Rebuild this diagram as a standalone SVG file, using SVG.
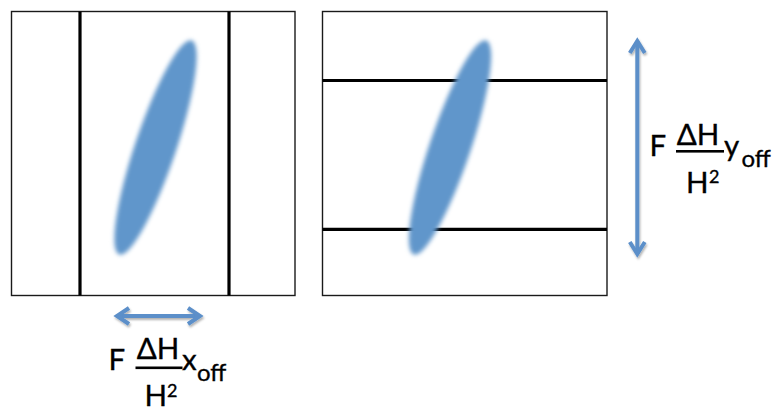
<svg xmlns="http://www.w3.org/2000/svg" width="778" height="410" viewBox="0 0 778 410">
  <defs>
    <filter id="soft" x="-30%" y="-10%" width="160%" height="120%">
      <feGaussianBlur stdDeviation="2.2"/>
    </filter>
    <filter id="shadow" x="-20%" y="-20%" width="140%" height="140%">
      <feDropShadow dx="1" dy="2" stdDeviation="1.3" flood-color="#000" flood-opacity="0.3"/>
    </filter>
    <style>
      .frame { fill: #ffffff; stroke: #1a1a1a; stroke-width: 1.4; }
      .cut { stroke: #000000; stroke-width: 3.2; fill: none; }
      .blob { fill: #6096cb; filter: url(#soft); }
      .arrow { stroke: #5b8fc9; stroke-width: 4; fill: none; stroke-linejoin: miter; }
      .t { font-family: Lato, "Open Sans", "Liberation Sans", sans-serif; fill: #000000; stroke: #000000; stroke-width: 0.35; }
      .main { font-size: 29.5px; }
      .sub { font-size: 24px; }
      .sup { font-size: 18px; }
      .bar { fill: #000000; }
    </style>
  </defs>

  <g id="panel-left">
    <rect class="frame" x="11.5" y="11.5" width="283.5" height="284"/>
    <line class="cut" x1="80" y1="11.5" x2="80" y2="295.5"/>
    <line class="cut" x1="229" y1="11.5" x2="229" y2="295.5"/>
    <ellipse class="blob" cx="155.5" cy="147.5" rx="20.5" ry="113" transform="rotate(18.7 155.5 147.5)"/>
  </g>

  <g id="panel-right">
    <rect class="frame" x="322.5" y="11.5" width="284.5" height="284"/>
    <line class="cut" x1="322.5" y1="80.5" x2="607" y2="80.5"/>
    <line class="cut" x1="322.5" y1="229.3" x2="607" y2="229.3"/>
    <ellipse class="blob" cx="450" cy="147.5" rx="20.5" ry="113" transform="rotate(18.7 450 147.5)"/>
  </g>

  <g id="connectors" filter="url(#shadow)">
    <g id="arrow-x">
      <line class="arrow" x1="118" y1="316" x2="199" y2="316"/>
      <polyline class="arrow" points="129,308 117,316 129,324"/>
      <polyline class="arrow" points="188,308 200,316 188,324"/>
    </g>
    <g id="arrow-y">
      <line class="arrow" x1="637.3" y1="41" x2="637.3" y2="254"/>
      <polyline class="arrow" points="629.8,53 637.3,41 644.8,53"/>
      <polyline class="arrow" points="629.8,242 637.3,254 644.8,242"/>
    </g>
  </g>

  <g id="label-x">
    <text class="t main" x="108.5" y="370">F</text>
    <text class="t main" x="158" y="358.5" text-anchor="middle">ΔH</text>
    <rect class="bar" x="135.5" y="366.5" width="47" height="2.6"/>
    <text class="t main" x="144.5" y="406">H</text>
    <text class="t sup" x="167" y="396.5">2</text>
    <text class="t main" x="182" y="370">x</text>
    <text class="t sub" x="197" y="381">off</text>
  </g>

  <g id="label-y">
    <text class="t main" x="649.5" y="156">F</text>
    <text class="t main" x="698" y="144.5" text-anchor="middle">ΔH</text>
    <rect class="bar" x="676" y="150" width="48" height="2.6"/>
    <text class="t main" x="686" y="192.5">H</text>
    <text class="t sup" x="709" y="182.5">2</text>
    <text class="t main" x="724" y="156">y</text>
    <text class="t sub" x="741.5" y="166.5">off</text>
  </g>
</svg>
